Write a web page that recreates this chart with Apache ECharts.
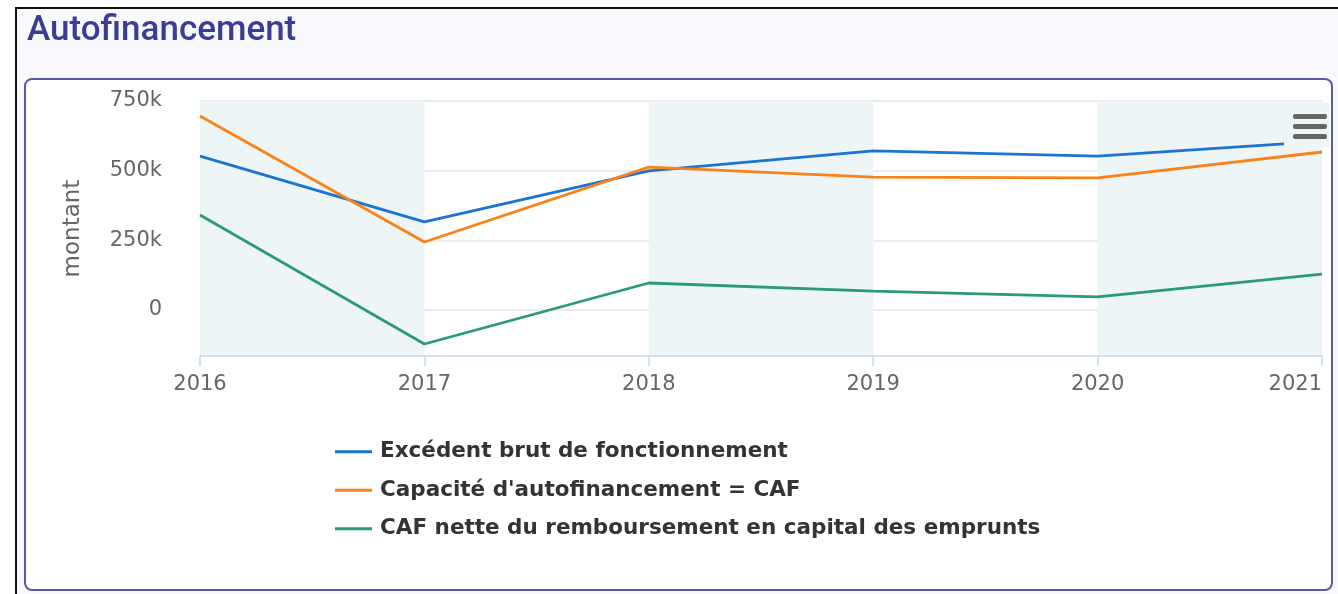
<!DOCTYPE html>
<html>
<head>
<meta charset="utf-8">
<script src="https://cdn.jsdelivr.net/npm/echarts@6/dist/echarts.min.js"></script>
<style>
  html, body { margin: 0; padding: 0; background: #fff; }
  #frame {
    position: absolute; left: 15px; top: 7px; right: 0; bottom: 0;
    border-left: 2px solid #111; border-top: 2px solid #111;
    background: #f8f8fd;
  }
  #card {
    position: absolute; left: 24px; top: 78px; width: 1309px; height: 513px;
    box-sizing: border-box; border: 2px solid #5a5aaa; border-radius: 8px;
    background: #fff;
  }
  #chart { position: absolute; left: 0; top: 0; width: 1338px; height: 594px; }
</style>
</head>
<body>
<div id="frame"></div>
<div id="card"></div>
<div id="chart"></div>
<script>
const years = ["2016", "2017", "2018", "2019", "2020", "2021"];
const excedentBrut = [552000, 316000, 499000, 571000, 552000, 605000];
const caf = [696000, 244000, 513000, 477000, 474000, 567000];
const cafNette = [341000, -122000, 97000, 68000, 47000, 129000];
const yTicks = [0, 250000, 500000, 750000];

const chart = echarts.init(document.getElementById("chart"));

const lineSeries = (name, data, color) => ({
  name,
  type: "line",
  data,
  showSymbol: false,
  lineStyle: { color, width: 2.8 },
  itemStyle: { color },
  animation: false,
});

// hamburger menu button (top right of the plot)
const menuBar = (top) => ({
  type: "rect",
  left: 1293,
  top,
  shape: { width: 34, height: 5, r: 2 },
  style: { fill: "#666" },
  z: 101,
});

chart.setOption({
  backgroundColor: "transparent",
  title: {
    text: "Autofinancement",
    left: 22,
    top: 9,
    textStyle: {
      fontFamily: "Roboto",
      fontSize: 35,
      fontWeight: 500,
      color: "#3c3c96",
    },
  },
  grid: { left: 200, right: 16, top: 101, bottom: 238, containLabel: false },
  legend: {
    orient: "vertical",
    left: 330,
    top: 434,
    icon: "rect",
    itemWidth: 37,
    itemHeight: 3,
    itemGap: 13,
    textStyle: {
      fontFamily: "DejaVu Sans",
      fontWeight: "bold",
      fontSize: 21.5,
      color: "#333",
      lineHeight: 25.5,
      padding: [0, 0, 0, 3],
    },
  },
  xAxis: {
    type: "category",
    data: years,
    boundaryGap: false,
    axisLine: { onZero: false, lineStyle: { color: "#ccd6eb", width: 1.5 } },
    axisTick: { show: true, length: 10, lineStyle: { color: "#ccd6eb", width: 1.5 } },
    axisLabel: {
      fontFamily: "DejaVu Sans",
      fontSize: 21,
      color: "#666",
      margin: 18,
      alignMaxLabel: "right",
    },
    splitArea: {
      show: true,
      areaStyle: { color: ["#eef5f7", "rgba(255,255,255,0)"] },
    },
  },
  yAxis: {
    type: "value",
    min: -165000,
    max: 750000,
    name: "montant",
    nameLocation: "middle",
    nameGap: 115,
    nameTextStyle: { fontFamily: "DejaVu Sans", fontSize: 23, color: "#666" },
    axisLine: { show: false },
    axisTick: { show: false, customValues: yTicks },
    axisLabel: {
      customValues: yTicks,
      fontFamily: "DejaVu Sans",
      fontSize: 21,
      color: "#666",
      margin: 38,
      formatter: (v) => (v === 0 ? "0" : v / 1000 + "k"),
    },
    splitLine: { lineStyle: { color: "#e6e6e6", width: 1.5 } },
  },
  graphic: [
    {
      type: "rect",
      left: 1284,
      top: 103,
      shape: { width: 46, height: 44 },
      style: { fill: "#eef5f7" },
      z: 100,
    },
    menuBar(114),
    menuBar(124),
    menuBar(134),
  ],
  series: [
    lineSeries("Excédent brut de fonctionnement", excedentBrut, "#1c74d2"),
    lineSeries("Capacité d'autofinancement = CAF", caf, "#fb8218"),
    lineSeries("CAF nette du remboursement en capital des emprunts", cafNette, "#2b9a78"),
  ],
  animation: false,
});
</script>
</body>
</html>
